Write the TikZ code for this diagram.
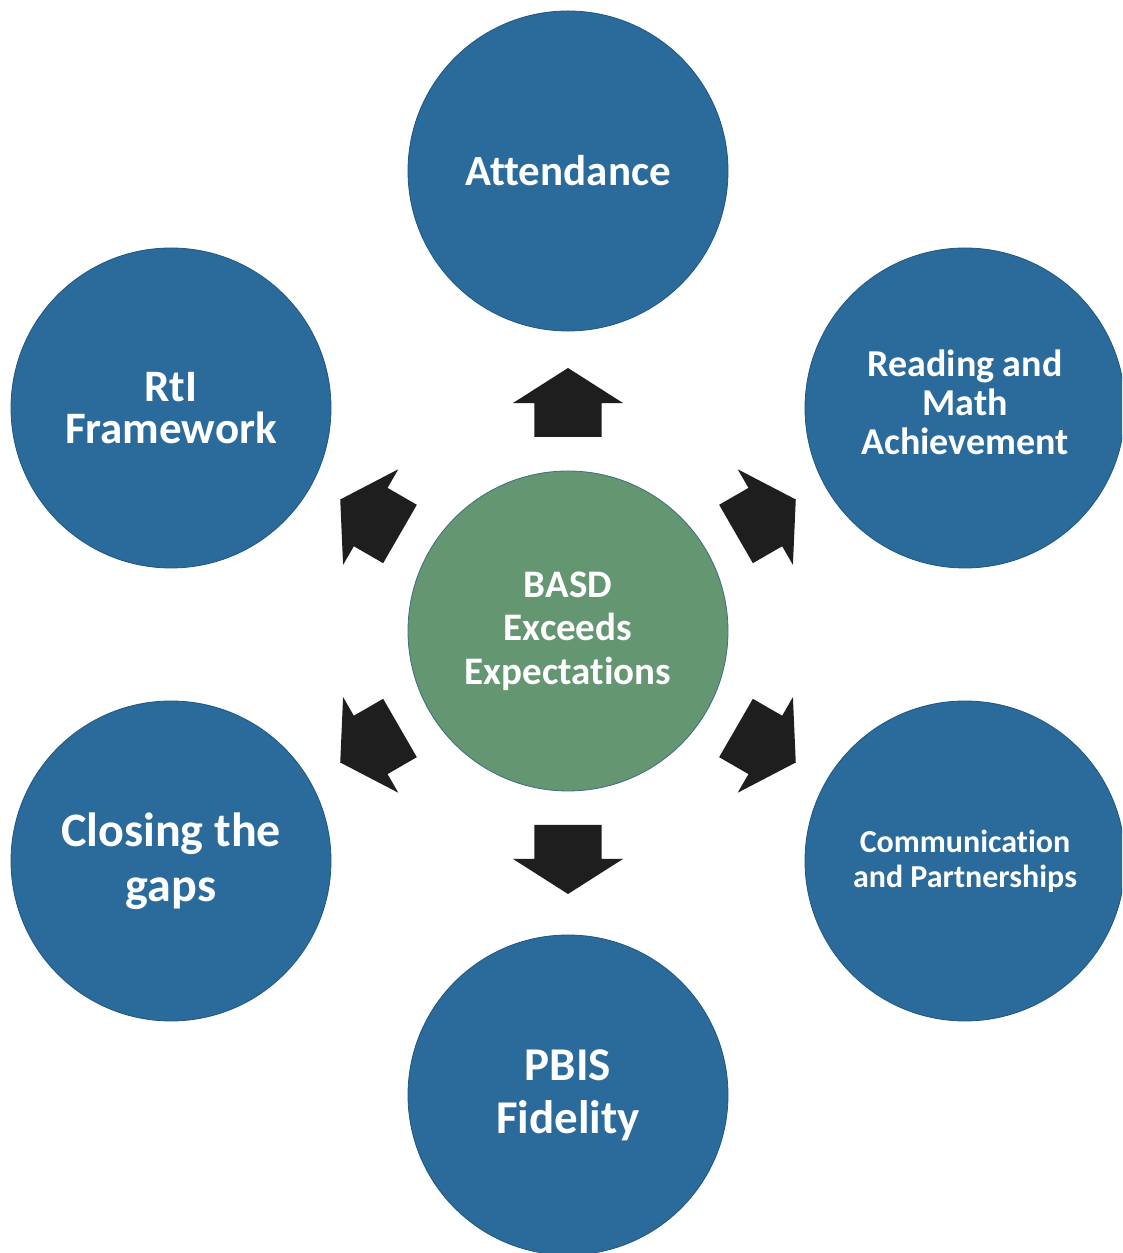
\documentclass[tikz,border=0pt]{standalone}
\usepackage{fontspec}
\setmainfont{Carlito}[Ligatures=NoCommon]
\usetikzlibrary{shapes.arrows,calc}

\definecolor{ballblue}{RGB}{42,107,155}
\definecolor{ballrim}{RGB}{30,86,130}
\definecolor{ballgreen}{RGB}{101,150,114}
\definecolor{greenrim}{RGB}{60,110,130}
\definecolor{arrowfill}{RGB}{30,30,30}

\tikzset{
	goal/.style={circle, fill=ballblue, draw=ballrim, line width=0.8pt, minimum size=320pt, inner sep=0pt, text=white, align=center},
	core/.style={goal, fill=ballgreen, draw=greenrim},
	push/.style={single arrow, fill=arrowfill, minimum height=69pt, minimum width=110pt, single arrow head extend=21.5pt, single arrow tip angle=115, inner xsep=0pt, inner ysep=33.5pt, outer sep=0pt, anchor=tail}
}

\begin{document}
\begin{tikzpicture}[x=1pt,y=1pt]
		\path [use as bounding box, clip] ( 0, 0 ) rectangle ( 1122, 1253 );
		\fill [white] ( 0, 0 ) rectangle ( 1122, 1253 );

		% центральный круг
		\node [core, font=\bfseries\fontsize{39}{43.5}\selectfont] (basd) at ( 568, 622 ) {BASD\\Exceeds\\Expectations};

		% внешние круги
		\node [goal, font=\bfseries\fontsize{43}{46}\selectfont] (att) at ( 568, 1082 ) {Attendance};
		\node [goal, font=\bfseries\fontsize{38}{39}\selectfont] (read) at ( 965, 845 ) {Reading and\\Math\\Achievement\rule[-12pt]{0pt}{12pt}};
		\node [goal, font=\bfseries\fontsize{32}{35}\selectfont] (comm) at ( 965, 392 ) {Communication\\and Partnerships};
		\node [goal, font=\bfseries\fontsize{47}{53}\selectfont] (pbis) at ( 568, 158 ) {PBIS\\Fidelity};
		\node [goal, font=\bfseries\fontsize{48}{55}\selectfont] (close) at ( 171, 392 ) {Closing the\\gaps};
		\node [goal, font=\bfseries\fontsize{45}{42}\selectfont] (rti) at ( 171, 845 ) {RtI\\Framework};

		% стрелки
		\node [push, rotate=90] (toatt) at ( $ (basd) + (90:194) $ ) {};
		\node [push, rotate=30] (toread) at ( $ (basd) + (30:194) $ ) {};
		\node [push, rotate=-30] (tocomm) at ( $ (basd) + (-30:194) $ ) {};
		\node [push, rotate=-90] (topbis) at ( $ (basd) + (-90:194) $ ) {};
		\node [push, rotate=-150] (toclose) at ( $ (basd) + (-150:194) $ ) {};
		\node [push, rotate=150] (torti) at ( $ (basd) + (150:194) $ ) {};
	\end{tikzpicture}
\end{document}
